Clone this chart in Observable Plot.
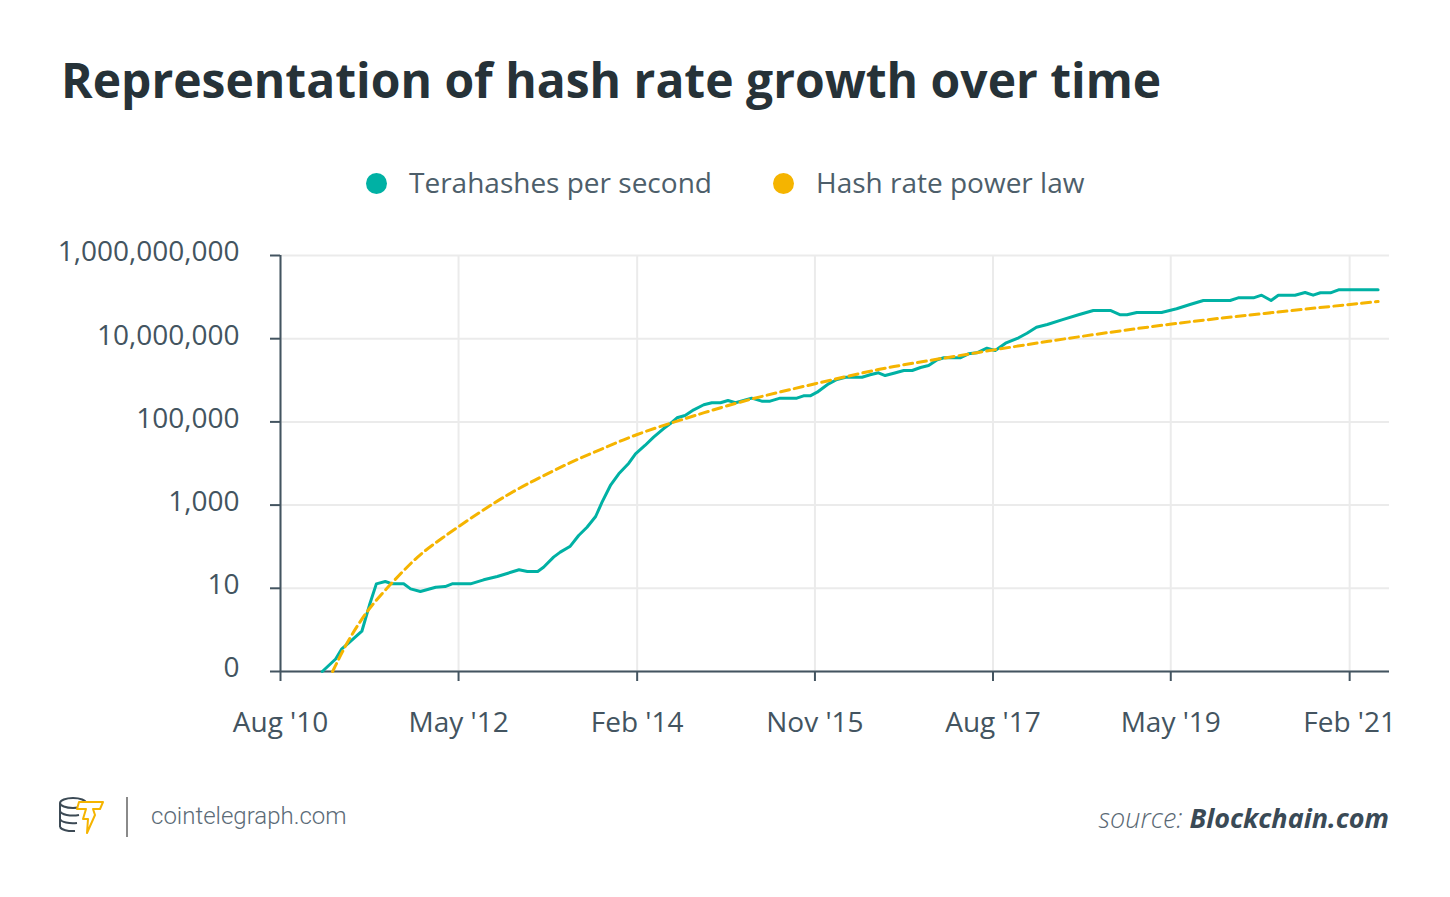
<!DOCTYPE html>
<html>
<head>
<meta charset="utf-8">
<script src="https://cdn.jsdelivr.net/npm/d3@7"></script>
<script src="https://cdn.jsdelivr.net/npm/@observablehq/plot@0.6"></script>
<style>
  html, body { margin: 0; padding: 0; background: #ffffff; }
  body { font-family: "Open Sans", sans-serif; }
  #wrap { position: relative; width: 1450px; height: 897px; overflow: hidden; background: #fff; }
  .title { position: absolute; left: 61px; top: 56px; font-size: 48px; font-weight: 700; color: #263238; line-height: 1; white-space: nowrap; }
  .leg { position: absolute; top: 168px; font-size: 28px; color: #4d5e6a; line-height: 1; white-space: nowrap; }
  .dot { position: absolute; width: 21px; height: 21px; border-radius: 50%; }
  #chart { position: absolute; left: 0; top: 230px; }
  .site { position: absolute; left: 151px; top: 804px; font-family: Roboto, sans-serif; font-weight: 300; font-size: 24px; color: #5b6b77; line-height: 1; white-space: nowrap; }
  .sep { position: absolute; left: 126px; top: 797px; width: 2px; height: 40px; background: #8a8a8a; }
  .source { position: absolute; right: 61px; top: 804px; font-size: 27px; font-style: italic; line-height: 1; white-space: nowrap; }
  .source .s1 { font-weight: 300; color: #5a6874; }
  .source .s2 { font-weight: 700; color: #3a4a56; }
</style>
</head>
<body>
<div id="wrap">
  <div class="title" id="title"></div>
  <div id="legend"></div>
  <div id="chart"></div>
  <svg width="50" height="46" style="position:absolute;left:57px;top:793px" viewBox="0 0 50 46">
    <g fill="none" stroke="#3c4a55" stroke-width="2">
      <ellipse cx="16" cy="10" rx="13" ry="5"/>
      <path d="M3 10 V34 M29 10 V17"/>
      <path d="M3 18 A13 5 0 0 0 22 22"/>
      <path d="M3 26 A13 5 0 0 0 20 30"/>
      <path d="M3 34 A13 5 0 0 0 18 38"/>
    </g>
    <path d="M22 9 L46 9 L43 16 L36 16 L38 22 L30 40 L31 26 L26 26 L29 16 L20 16 Z" fill="#ffffff" stroke="#f5b400" stroke-width="2" stroke-linejoin="round"/>
  </svg>
  <div class="sep"></div>
  <div class="site">cointelegraph.com</div>
  <div class="source"><span class="s1">source: </span><span class="s2">Blockchain.com</span></div>
</div>
<script>
// ---- Text ----
const titleText = "Representation of hash rate growth over time";
const seriesNames = ["Terahashes per second", "Hash rate power law"];

// ---- Terahashes per second ----
const hashDates = [
  "2010-12-29","2011-02-15","2011-03-09","2011-04-02","2011-05-20","2011-06-16","2011-07-11","2011-08-12","2011-09-06","2011-10-17",
  "2011-11-11","2011-12-16","2012-02-09","2012-03-14","2012-04-08","2012-06-13","2012-07-30","2012-09-17","2012-12-04","2013-01-03",
  "2013-02-09","2013-03-02","2013-04-07","2013-05-01","2013-06-06","2013-07-06","2013-08-05","2013-09-05","2013-09-28","2013-10-28",
  "2013-11-27","2014-01-02","2014-01-26","2014-03-01","2014-04-01","2014-05-06","2014-05-30","2014-06-24","2014-07-23","2014-08-23",
  "2014-09-28","2014-10-27","2014-11-27","2014-12-24","2015-01-20","2015-03-19","2015-04-24","2015-05-24","2015-06-29","2015-08-28",
  "2015-09-21","2015-10-15","2015-11-09","2015-12-20","2016-01-19","2016-02-19","2016-04-18","2016-05-17","2016-06-16","2016-07-10",
  "2016-08-10","2016-09-15","2016-10-15","2016-11-14","2016-12-13","2017-01-13","2017-02-06","2017-04-05","2017-05-05","2017-06-04",
  "2017-07-10","2017-08-09","2017-09-15","2017-11-01","2017-12-01","2018-01-04","2018-02-12","2018-04-05","2018-06-04","2018-07-27",
  "2018-09-26","2018-11-01","2018-11-25","2018-12-30","2019-03-29","2019-05-22","2019-07-09","2019-08-26","2019-11-30","2019-12-29",
  "2020-02-22","2020-03-22","2020-04-25","2020-05-21","2020-07-20","2020-08-25","2020-09-23","2020-10-19","2020-11-24","2020-12-23",
  "2021-05-14"
];
const hashValues = [
  0.1, 0.2, 0.35, 0.48, 0.93, 3.9, 12.8, 14.6, 12.8, 12.8,
  9.7, 8.4, 10.6, 11, 12.8, 12.8, 16, 19.2, 27.9, 25.4,
  25.4, 32, 56, 74, 103, 186, 294, 532, 1175, 2960,
  5650, 10160, 17100, 27100, 42900, 68200, 90000, 125600, 142600, 195000,
  258000, 288000, 288000, 327000, 288000, 372000, 315000, 315000, 372000, 372000,
  424000, 424000, 518000, 824000, 1045000, 1188000, 1188000, 1356000, 1514000, 1303000,
  1482000, 1722000, 1722000, 2033000, 2271000, 3112000, 3476000, 3476000, 4337000, 4583000,
  5914000, 5200000, 7800000, 10520000, 13550000, 18900000, 21950000, 28400000, 37550000, 47700000,
  47700000, 37550000, 37550000, 42650000, 42650000, 52350000, 66400000, 82800000, 82800000, 96100000,
  96100000, 111100000, 82800000, 111100000, 111100000, 129100000, 111100000, 126900000, 126900000, 149800000,
  149800000
];

// ---- Hash rate power law ----
const powerDates = [
  "2011-02-04","2011-03-27","2011-05-20","2011-06-19","2011-08-12","2011-10-17","2011-12-04","2012-02-03",
  "2012-09-29","2013-01-27","2013-05-25","2013-09-22","2014-02-02","2014-06-12","2014-09-16","2015-03-13",
  "2015-11-02","2016-06-22","2017-01-01","2017-11-07","2018-06-10","2019-04-28","2020-03-16","2021-05-14"
];
const powerValues = [
  0.1, 0.5, 1.85, 3.5, 9.2, 26.8, 56, 121,
  1496, 3900, 9840, 21700, 51800, 98400, 156700, 359000,
  824000, 1923000, 3112000, 6870000, 11300000, 22800000, 39700000, 78300000
];

// ---- Axes ----
const xDomain = ["2010-08-01", "2021-06-24"];
const xTickDates = ["2010-08-01","2012-05-01","2014-02-01","2015-11-01","2017-08-01","2019-05-01","2021-02-01"];
const xTickLabels = ["Aug '10","May '12","Feb '14","Nov '15","Aug '17","May '19","Feb '21"];
const yDomain = [0.1, 1e9];
const yTicks = [0.1, 10, 1000, 100000, 10000000, 1000000000];
const yTickLabels = ["0", "10", "1,000", "100,000", "10,000,000", "1,000,000,000"];

// ---- Build ----
const parse = s => new Date(s + "T00:00:00Z");
const hash = hashDates.map((d, i) => ({date: parse(d), value: hashValues[i]}));
const power = powerDates.map((d, i) => ({date: parse(d), value: powerValues[i]}));
const xTicks = xTickDates.map(parse);
const xLabelMap = new Map(xTicks.map((d, i) => [+d, xTickLabels[i]]));

const TEAL = "#00b1a4", YELLOW = "#f5b400", AXIS = "#435460", GRID = "#ebebeb";

document.getElementById("title").textContent = titleText;

const legend = document.getElementById("legend");
[[TEAL, 366, 409], [YELLOW, 773, 816]].forEach(([c, dx, tx], i) => {
  const dot = document.createElement("div");
  dot.className = "dot";
  dot.style.background = c; dot.style.left = dx + "px"; dot.style.top = "173px";
  legend.appendChild(dot);
  const t = document.createElement("div");
  t.className = "leg"; t.style.left = tx + "px"; t.textContent = seriesNames[i];
  legend.appendChild(t);
});

const chart = Plot.plot({
  width: 1450,
  height: 530,
  marginLeft: 280,
  marginRight: 61,
  marginTop: 25,
  marginBottom: 89,
  style: {fontFamily: "'Open Sans', sans-serif", fontSize: "28px", color: AXIS, background: "transparent"},
  x: {type: "utc", domain: xDomain.map(parse)},
  y: {type: "log", domain: yDomain},
  marks: [
    Plot.gridY(yTicks, {stroke: GRID, strokeOpacity: 1, strokeWidth: 2}),
    Plot.gridX(xTicks, {stroke: GRID, strokeOpacity: 1, strokeWidth: 2}),
    // tick marks
    Plot.axisY(yTicks, {tickFormat: () => "", tickSize: 10, strokeWidth: 2, label: null}),
    Plot.axisX(xTicks, {tickFormat: () => "", tickSize: 10, strokeWidth: 2, label: null}),
    // tick labels
    Plot.axisY(yTicks, {tickFormat: d => yTickLabels[yTicks.indexOf(d)], tickSize: 0, tickPadding: 41, dy: -3, label: null}),
    Plot.axisX(xTicks, {tickFormat: d => xLabelMap.get(+d), tickSize: 0, tickPadding: 40, dy: 1, label: null}),
    Plot.ruleY([yDomain[0]], {stroke: AXIS, strokeWidth: 2}),
    Plot.ruleX([parse(xDomain[0])], {stroke: AXIS, strokeWidth: 2}),
    Plot.line(hash, {x: "date", y: "value", stroke: TEAL, strokeWidth: 3, strokeLinejoin: "round"}),
    Plot.line(power, {x: "date", y: "value", stroke: YELLOW, strokeWidth: 3, strokeDasharray: "9,5", curve: "basis"})
  ]
});
document.getElementById("chart").appendChild(chart);
</script>
</body>
</html>
